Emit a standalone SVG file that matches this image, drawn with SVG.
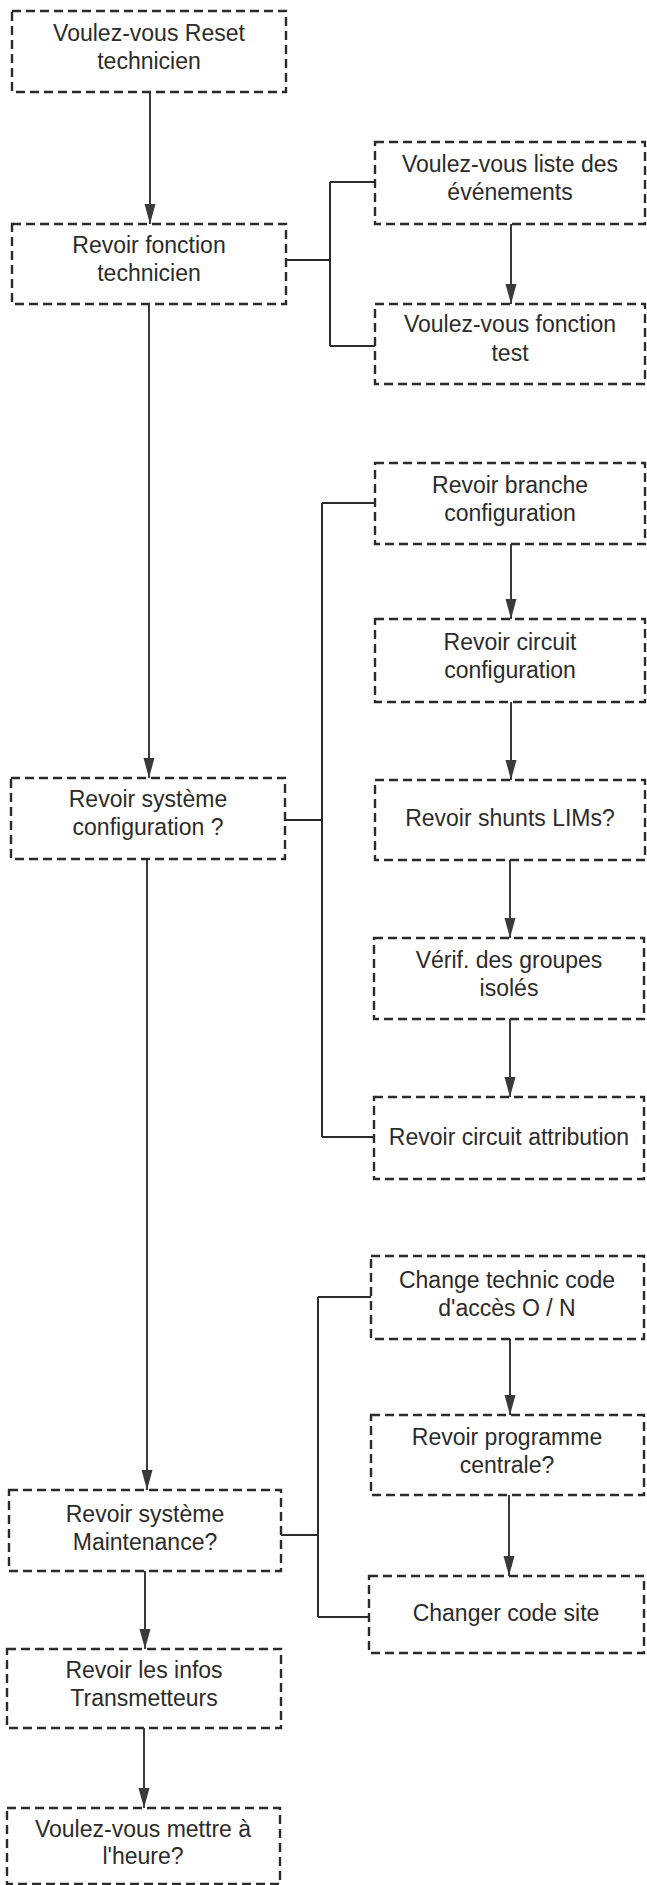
<svg xmlns="http://www.w3.org/2000/svg" width="647" height="1885" viewBox="0 0 647 1885">
<style>
.box{fill:none;stroke:#2b2b2b;stroke-width:2.4;stroke-dasharray:9 5}
.t{font-family:"Liberation Sans",Arial,Helvetica,sans-serif;font-size:23px;fill:#2b2b2b;text-anchor:middle}
.c{fill:none;stroke:#2b2b2b;stroke-width:2}
.a{fill:none;stroke:#3a3a3a;stroke-width:2;marker-end:url(#ah)}
</style>
<defs>
<marker id="ah" markerUnits="userSpaceOnUse" markerWidth="20" markerHeight="12" refX="20" refY="6" orient="auto">
<path d="M0,0.5 L20,6 L0,11.5 z" fill="#3a3a3a"/>
</marker>
</defs>
<rect width="647" height="1885" fill="#ffffff"/>
<g id="connectors">
<line class="a" x1="150" y1="92" x2="150" y2="224"/>
<path class="c" d="M286,260 H330 M330,182 V346 M330,182 H375 M330,346 H375"/>
<line class="a" x1="511" y1="224" x2="511" y2="304"/>
<line class="a" x1="149" y1="304" x2="149" y2="778"/>
<path class="c" d="M285,820 H322 M322,503 V1137 M322,503 H375 M322,1137 H374"/>
<line class="a" x1="511" y1="544" x2="511" y2="619"/>
<line class="a" x1="511" y1="702" x2="511" y2="780"/>
<line class="a" x1="510" y1="860" x2="510" y2="938"/>
<line class="a" x1="510" y1="1019" x2="510" y2="1097"/>
<line class="a" x1="147" y1="859" x2="147" y2="1490"/>
<path class="c" d="M281,1535 H318 M318,1297 V1617 M318,1297 H371 M318,1617 H369"/>
<line class="a" x1="510" y1="1339" x2="510" y2="1415"/>
<line class="a" x1="509" y1="1495" x2="509" y2="1576"/>
<line class="a" x1="145" y1="1571" x2="145" y2="1649"/>
<line class="a" x1="144" y1="1728" x2="144" y2="1808"/>
</g>
<g id="n1"><rect class="box" x="12" y="11" width="274" height="81"/><text class="t" x="149" y="41">Voulez-vous Reset</text><text class="t" x="149" y="69">technicien</text></g>
<g id="n2"><rect class="box" x="12" y="224" width="274" height="80"/><text class="t" x="149" y="253">Revoir fonction</text><text class="t" x="149" y="281">technicien</text></g>
<g id="nA"><rect class="box" x="375" y="142" width="270" height="82"/><text class="t" x="510" y="172">Voulez-vous liste des</text><text class="t" x="510" y="200">événements</text></g>
<g id="nB"><rect class="box" x="375" y="304" width="270" height="80"/><text class="t" x="510" y="332">Voulez-vous fonction</text><text class="t" x="510" y="361">test</text></g>
<g id="n3"><rect class="box" x="11" y="778" width="274" height="81"/><text class="t" x="148" y="807">Revoir système</text><text class="t" x="148" y="835">configuration ?</text></g>
<g id="nC"><rect class="box" x="375" y="463" width="270" height="81"/><text class="t" x="510" y="493">Revoir branche</text><text class="t" x="510" y="521">configuration</text></g>
<g id="nD"><rect class="box" x="375" y="619" width="270" height="83"/><text class="t" x="510" y="650">Revoir circuit</text><text class="t" x="510" y="678">configuration</text></g>
<g id="nE"><rect class="box" x="375" y="780" width="270" height="80"/><text class="t" x="510" y="826">Revoir shunts LIMs?</text></g>
<g id="nF"><rect class="box" x="374" y="938" width="270" height="81"/><text class="t" x="509" y="968">Vérif. des groupes</text><text class="t" x="509" y="996">isolés</text></g>
<g id="nG"><rect class="box" x="374" y="1097" width="270" height="82"/><text class="t" x="509" y="1145">Revoir circuit attribution</text></g>
<g id="n4"><rect class="box" x="9" y="1490" width="272" height="81"/><text class="t" x="145" y="1522">Revoir système</text><text class="t" x="145" y="1550">Maintenance?</text></g>
<g id="nH"><rect class="box" x="371" y="1256" width="273" height="83"/><text class="t" x="507" y="1288">Change technic code</text><text class="t" x="507" y="1316">d'accès O / N</text></g>
<g id="nI"><rect class="box" x="371" y="1415" width="273" height="80"/><text class="t" x="507" y="1445">Revoir programme</text><text class="t" x="507" y="1473">centrale?</text></g>
<g id="nJ"><rect class="box" x="369" y="1576" width="275" height="77"/><text class="t" x="506" y="1621">Changer code site</text></g>
<g id="n5"><rect class="box" x="7" y="1649" width="274" height="79"/><text class="t" x="144" y="1678">Revoir les infos</text><text class="t" x="144" y="1706">Transmetteurs</text></g>
<g id="n6"><rect class="box" x="7" y="1808" width="273" height="76"/><text class="t" x="143" y="1837">Voulez-vous mettre à</text><text class="t" x="143" y="1864">l'heure?</text></g>
</svg>
